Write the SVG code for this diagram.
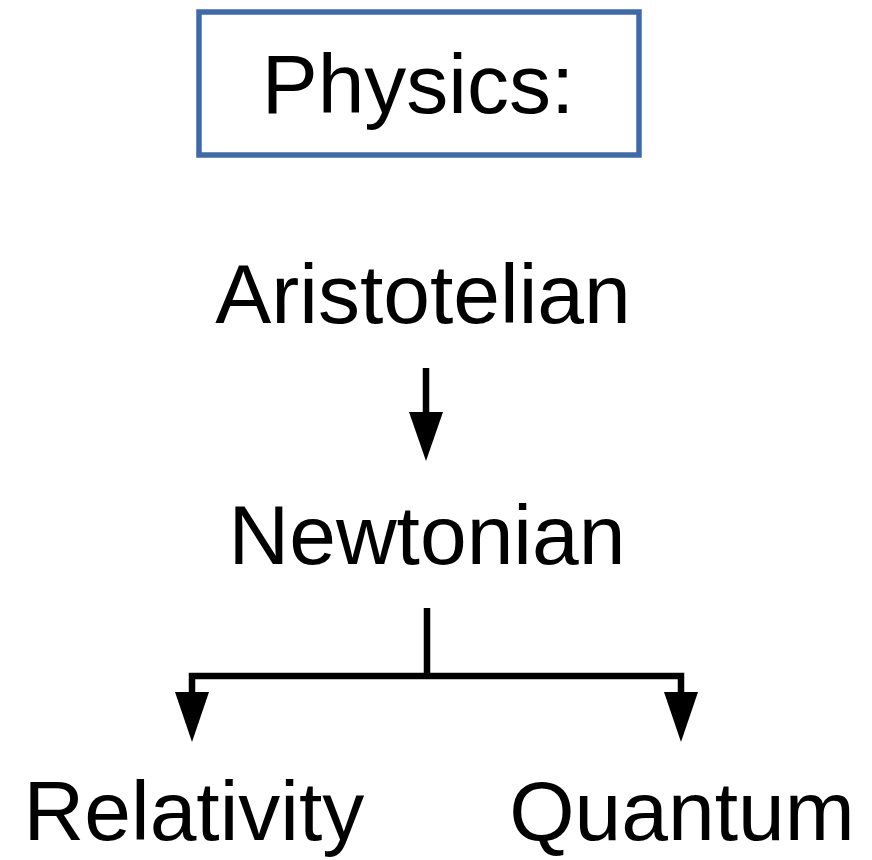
<svg xmlns="http://www.w3.org/2000/svg" width="872" height="860" viewBox="0 0 872 860">
<defs>
<style>
.lbl{font-family:"Liberation Sans",Arial,sans-serif;font-size:84px;fill:#000;text-anchor:middle}
.ln{stroke:#000;stroke-width:6.5;fill:none;stroke-linejoin:miter}
.hd{fill:#000;stroke:none}
</style>
</defs>
<rect width="872" height="860" fill="#fff"/>
<g id="physics">
<rect x="199" y="12" width="440" height="143" fill="#fff" stroke="#3f6aa6" stroke-width="5.5"/>
<text class="lbl" x="418" y="113">Physics:</text>
</g>
<g id="aristotelian"><text class="lbl" x="423" y="323">Aristotelian</text></g>
<g id="newtonian"><text class="lbl" x="427" y="564">Newtonian</text></g>
<g id="relativity"><text class="lbl" x="194" y="840">Relativity</text></g>
<g id="quantum"><text class="lbl" x="682" y="840">Quantum</text></g>
<g id="connectors">
<path class="ln" d="M426 368 V414"/>
<polygon class="hd" points="409,412 443,412 426,461"/>
<path class="ln" d="M427 608 V676 M192 694 V676 H681 V694"/>
<polygon class="hd" points="175,692 209,692 192,742"/>
<polygon class="hd" points="664,692 698,692 681,742"/>
</g>
</svg>
